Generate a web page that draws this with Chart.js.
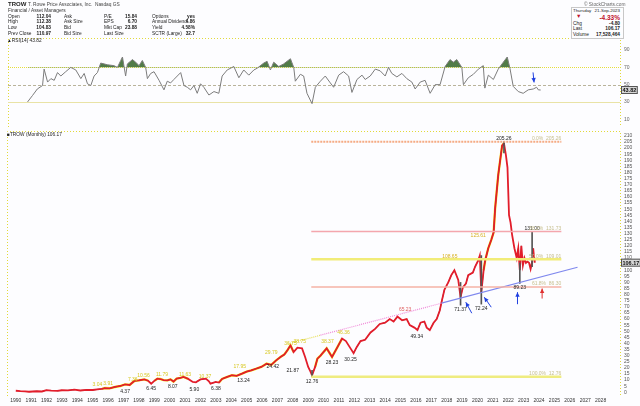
<!DOCTYPE html>
<html>
<head>
<meta charset="utf-8">
<script src="https://cdn.jsdelivr.net/npm/chart.js@4.4.0/dist/chart.umd.min.js"></script>
<style>
body{margin:0;background:#fdfdff;width:640px;height:406px;overflow:hidden;position:relative;font-family:"Liberation Sans",Arial,sans-serif}
canvas{position:absolute;left:0;top:0}
.t{position:absolute;font-size:4.8px;line-height:5px;color:#222;white-space:nowrap}
.b{font-weight:bold}
.r{text-align:right}
</style>
</head>
<body>
<canvas id="rsi" width="640" height="406"></canvas>
<canvas id="main" width="640" height="406"></canvas>

<div class="t b" style="left:8px;top:1px;font-size:6px;line-height:6px">TROW</div>
<div class="t" style="left:28px;top:2px;color:#444">T. Rowe Price Associates, Inc.&nbsp; Nasdaq GS</div>
<div class="t" style="left:8px;top:8px;color:#333">Financial / Asset Managers</div>

<div class="t" style="left:8px;top:13.5px">Open</div><div class="t b r" style="left:20px;width:31px;top:13.5px">112.04</div>
<div class="t" style="left:8px;top:19px">High</div><div class="t b r" style="left:20px;width:31px;top:19px">112.38</div>
<div class="t" style="left:8px;top:25px">Low</div><div class="t b r" style="left:20px;width:31px;top:25px">104.83</div>
<div class="t" style="left:8px;top:31px">Prev Close</div><div class="t b r" style="left:20px;width:31px;top:31px">110.97</div>

<div class="t" style="left:64px;top:13.5px">Ask</div>
<div class="t" style="left:64px;top:19px">Ask Size</div>
<div class="t" style="left:64px;top:25px">Bid</div>
<div class="t" style="left:64px;top:31px">Bid Size</div>

<div class="t" style="left:104px;top:13.5px">P/E</div><div class="t b r" style="left:110px;width:27px;top:13.5px">15.84</div>
<div class="t" style="left:104px;top:19px">EPS</div><div class="t b r" style="left:110px;width:27px;top:19px">6.70</div>
<div class="t" style="left:104px;top:25px">Mkt Cap</div><div class="t b r" style="left:110px;width:27px;top:25px">23.88</div>
<div class="t" style="left:104px;top:31px">Last Size</div>

<div class="t" style="left:152px;top:13.5px">Options</div><div class="t b r" style="left:170px;width:25px;top:13.5px">yes</div>
<div class="t" style="left:152px;top:19px">Annual Dividend</div><div class="t b r" style="left:170px;width:25px;top:19px">4.86</div>
<div class="t" style="left:152px;top:25px">Yield</div><div class="t b r" style="left:170px;width:25px;top:25px">4.58%</div>
<div class="t" style="left:152px;top:31px">SCTR (Large)</div><div class="t b r" style="left:170px;width:25px;top:31px">32.7</div>

<div class="t" style="left:7px;top:38px">&#9650;RSI(14) 43.82</div>
<div class="t" style="left:7px;top:132px">&#9632;TROW (Monthly) 106.17</div>

<div class="t" style="left:584px;top:2px;color:#666">&copy; StockCharts.com</div>
<div style="position:absolute;left:571px;top:7px;width:51px;height:30px;border:1px solid #c8c8c8;background:#fdfdff"></div>
<div class="t" style="left:573px;top:8px;font-size:4.4px">Thursday</div><div class="t r" style="left:592px;width:28px;top:8px;font-size:4.4px">21-Sep-2023</div>
<div class="t" style="left:576px;top:14px;color:#c0102a;font-size:5.5px">&#9660;</div><div class="t b r" style="left:585px;width:35px;top:13.5px;color:#c0102a;font-size:6.5px;line-height:7px">-4.33%</div>
<div class="t" style="left:573px;top:20.5px">Chg</div><div class="t b r" style="left:590px;width:30px;top:20.5px">-4.80</div>
<div class="t" style="left:573px;top:26px">Last</div><div class="t b r" style="left:590px;width:30px;top:26px">106.17</div>
<div class="t" style="left:573px;top:31.5px">Volume</div><div class="t b r" style="left:590px;width:30px;top:31.5px">17,528,464</div>

<script>
// monthly close (approx)
var priceYears = [1990.0,1990.3,1990.6,1990.85,1991.1,1991.4,1991.7,1992.0,1992.3,1992.7,1993.0,1993.4,1993.8,1994.2,1994.6,1995.0,1995.3,1995.6,1995.8,1996.1,1996.45,1996.8,1997.1,1997.4,1997.7,1998.0,1998.35,1998.6,1998.8,1999.0,1999.2,1999.4,1999.6,1999.85,2000.05,2000.25,2000.45,2000.7,2000.9,2001.05,2001.2,2001.5,2001.7,2002.0,2002.35,2002.55,2002.65,2003.0,2003.2,2003.4,2003.7,2004.05,2004.35,2004.7,2005.0,2005.3,2005.6,2005.95,2006.3,2006.6,2006.9,2007.2,2007.45,2007.65,2007.85,2008.05,2008.3,2008.6,2008.8,2009.0,2009.15,2009.25,2009.45,2009.6,2009.8,2010.2,2010.4,2010.55,2010.9,2011.2,2011.45,2011.75,2011.95,2012.15,2012.4,2012.7,2013.05,2013.35,2013.65,2014.0,2014.3,2014.55,2014.8,2015.1,2015.4,2015.6,2015.9,2016.1,2016.3,2016.55,2016.7,2016.9,2017.15,2017.35,2017.55,2017.65,2017.85,2018.1,2018.3,2018.5,2018.75,2018.9,2019.05,2019.25,2019.4,2019.7,2019.85,2020.05,2020.15,2020.25,2020.4,2020.5,2020.7,2020.9,2021.05,2021.15,2021.35,2021.6,2021.72,2021.85,2021.95,2022.05,2022.15,2022.25,2022.4,2022.55,2022.65,2022.75,2022.85,2022.95,2023.05,2023.15,2023.25,2023.35,2023.45,2023.55,2023.62,2023.68,2023.72];
var priceCloses = [1.3,1.0,0.8,0.5,0.7,0.9,0.7,1.8,1.4,1.2,1.7,1.6,2.2,1.5,2.0,1.9,2.4,2.9,3.5,3.3,4.4,5.2,6.5,6.0,9.3,9.8,10.6,9.5,7.1,9.4,11.2,10.9,10.0,9.8,10.6,8.8,11.2,11.9,12.6,11.8,11.0,8.5,8.2,10.6,11.2,9.0,7.1,8.5,8.0,11.0,12.5,14.0,13.5,15.3,17.0,18.0,19.3,20.8,23.5,22.5,26.0,29.0,31.0,34.4,38.5,33.0,36.6,36.0,29.0,20.8,17.0,14.0,20.8,27.6,30.0,36.0,32.0,29.0,37.0,44.0,42.0,36.0,32.0,37.0,42.0,43.0,49.0,52.0,56.0,57.0,60.0,58.0,62.0,59.0,60.0,55.0,53.0,51.0,57.0,58.0,53.0,51.0,57.0,60.0,67.0,73.0,84.0,90.0,96.0,100.0,92.0,78.0,86.0,89.0,96.0,98.0,103.0,108.0,112.0,82.0,100.0,108.0,118.0,125.0,131.0,151.0,178.0,202.0,204.0,194.0,184.0,145.0,139.0,129.0,118.0,110.0,118.0,100.0,120.0,104.0,110.0,106.0,107.0,106.0,101.0,107.0,118.0,110.0,106.17];

// some high/low wicks
var wickYears = [2021.72,2018.9,2020.25,2022.75,2023.55,2009.25];
var wickLows  = [196,71.37,72.24,89.23,103,12.76];
var wickHighs = [205.26,90,112,106,131,18];

// periods drawn with the yellow highlight
var hiliteFrom = [1995.5,1998.9,2003.1,2009.3,2020.3];
var hiliteTo   = [1998.65,2001.3,2008.1,2011.2,2021.72];

// RSI(14)
var rsiYears = [1991.18,1991.5,1991.8,1992.13,1992.23,1992.45,1992.66,1992.87,1993.08,1993.29,1993.6,1993.92,1994.24,1994.56,1994.77,1994.98,1995.19,1995.4,1995.61,1995.82,1996.25,1996.66,1996.88,1997.09,1997.2,1997.4,1997.51,1997.83,1998.04,1998.25,1998.46,1998.67,1998.78,1998.99,1999.2,1999.52,1999.83,2000.04,2000.25,2000.46,2000.89,2001.1,2001.31,2001.52,2001.73,2001.94,2002.15,2002.36,2002.68,2003.0,2003.31,2003.52,2003.84,2004.26,2004.58,2004.89,2005.21,2005.53,2005.74,2006.16,2006.37,2006.58,2006.79,2007.11,2007.42,2007.85,2008.06,2008.16,2008.48,2008.69,2008.9,2009.22,2009.43,2009.75,2010.06,2010.38,2010.59,2010.91,2011.22,2011.54,2011.75,2012.07,2012.39,2012.59,2012.91,2013.23,2013.54,2013.86,2014.07,2014.28,2014.6,2014.92,2015.23,2015.55,2015.76,2016.08,2016.39,2016.71,2017.03,2017.34,2017.66,2017.97,2018.18,2018.4,2018.72,2018.82,2019.13,2019.45,2019.77,2020.08,2020.18,2020.4,2020.72,2021.03,2021.35,2021.6,2021.77,2021.98,2022.3,2022.61,2022.93,2023.25,2023.46,2023.57,2023.72];
var rsiValues = [30,37.6,45,49,68,53,57,55,64,60,65,70,67,57,63,51,49,60,64,75,73,72,70,78,82,60,74,79,76,72,78,70,57,63,65,55,44,54,52,56,64,49,47,44,49,40,51,47,38,42,40,60,67,71,58,67,61,67,69,75,77,67,76,71,74,80,70,54,62,60,40,28,47,54,60,52,47,61,65,60,41,56,61,56,60,68,66,60,70,63,59,63,57,53,45,53,55,40,50,50,71,79,76,79,70,50,58,62,68,72,46,61,56,68,76,82,69,48,42,40,44,45,47,44,43.82];

// axis tick labels
var yearTicks = [];
for (var yy = 1990; yy <= 2028; yy++) yearTicks.push(yy);
var rsiTicks = [10,30,50,70,90];

// Fibonacci retracement 12.76 -> 205.26
var fibLevels = [205.26,131.73,109.01,86.30,12.76];
var fibNames  = ['0.0%','38.2%','50.0%','61.8%','100.0%'];
var fibFrom = 2009.2, fibTo = 2025.45;

// support trend line
var trendYears  = [2007.7,2009.8,2017.66,2026.5];
var trendValues = [39.8,46.8,73.0,102.4];

// price labels
var labYears  = [2021.72,2020.05,2018.2,2023.55,2018.9,2020.25,2022.75,2016.05,2015.3,2011.3,2011.75,2010.25,2010.55,2009.25,2008.0,2007.85,2008.45,2006.6,2006.7,2004.55,2004.8,2003.0,2002.3,2001.6,2001.0,2000.2,1999.5,1998.8,1998.3,1997.6,1997.1,1996.0,1995.3];
var labValues = [205.26,125.61,108.65,131.00,71.37,72.24,89.23,49.34,65.23,46.36,30.25,38.37,28.23,12.76,21.87,36.75,38.75,29.79,24.42,17.95,13.24,6.38,10.37,5.90,11.63,8.07,11.79,6.45,10.56,7.36,4.37,3.91,3.04];
var labText   = ['205.26','125.61','108.65','131.00','71.37','72.24','89.23','49.34','65.23','46.36','30.25','38.37','28.23','12.76','21.87','36.75','38.75','29.79','24.42','17.95','13.24','6.38','10.37','5.90','11.63','8.07','11.79','6.45','10.56','7.36','4.37','3.91','3.04'];
var labAbove  = [1,1,1,1,0,0,0,0,1,1,0,1,0,0,0,1,1,1,0,1,0,0,1,0,1,0,1,0,1,1,0,1,1];
var labColors = ['#222','#d8b020','#d8b020','#222','#222','#222','#222','#222','#e06060','#d8c820','#222','#d8c820','#222','#222','#222','#d8c820','#d8c820','#d8c820','#222','#d8c820','#222','#222','#d8c820','#222','#d8c820','#222','#d8c820','#222','#d8c820','#d8c820','#222','#d8c820','#d8c820'];

// arrows: head at (year, value), tail offset in px
var arrowYears  = [2019.24,2020.44,2022.6,2024.2];
var arrowValues = [73.8,77.9,82,85];
var arrowDx = [6,7,0,0], arrowDy = [11,10,12,10];
var arrowColors = ['#2040e0','#2040e0','#2040e0','#e03030'];

var X_MIN = 1989.94, X_MAX = 2028.75;

function pts(xs, ys){ return xs.map(function(x,i){ return {x:x, y:ys[i]}; }); }

function dotBorder(ctx, a){
  ctx.save();
  ctx.strokeStyle = '#e2da3a';
  ctx.lineWidth = 1;
  ctx.setLineDash([1,2]);
  ctx.beginPath();
  ctx.moveTo(a.left+0.5, a.bottom); ctx.lineTo(a.left+0.5, a.top+0.5); ctx.lineTo(a.right+0.5, a.top+0.5); ctx.lineTo(a.right+0.5, a.bottom);
  ctx.stroke();
  ctx.restore();
}

function valueBox(ctx, x, y, txt){
  ctx.save();
  ctx.font = 'bold 5.5px "Liberation Sans", Arial';
  var w = ctx.measureText(txt).width + 3;
  ctx.fillStyle = '#d6d6d6';
  ctx.strokeStyle = '#555';
  ctx.fillRect(x, y-4, w, 8);
  ctx.strokeRect(x+0.5, y-3.5, w-1, 7);
  ctx.fillStyle = '#111';
  ctx.textBaseline = 'middle';
  ctx.fillText(txt, x+1.5, y+0.5);
  ctx.restore();
}

function arrow(ctx, hx, hy, dx, dy, col){
  var tx = hx + dx, ty = hy + dy;
  var ang = Math.atan2(hy-ty, hx-tx);
  ctx.save();
  ctx.strokeStyle = col; ctx.fillStyle = col; ctx.lineWidth = 1;
  ctx.beginPath(); ctx.moveTo(tx, ty); ctx.lineTo(hx, hy); ctx.stroke();
  ctx.beginPath();
  ctx.moveTo(hx, hy);
  ctx.lineTo(hx - 5*Math.cos(ang-0.45), hy - 5*Math.sin(ang-0.45));
  ctx.lineTo(hx - 5*Math.cos(ang+0.45), hy - 5*Math.sin(ang+0.45));
  ctx.closePath(); ctx.fill();
  ctx.restore();
}

var rsiDeco = {
  id: 'rsiDeco',
  beforeDatasetsDraw: function(chart){
    var ctx = chart.ctx, a = chart.chartArea, y = chart.scales.y;
    dotBorder(ctx, a);
    var lv = [70,50,30], cols = ['#e6de3c','#b9b39a','#e9e3a6'], dash = [[1,1],[3,2],[]];
    lv.forEach(function(v,i){
      ctx.save();
      ctx.strokeStyle = cols[i]; ctx.setLineDash(dash[i]); ctx.lineWidth = 1;
      var p = Math.round(y.getPixelForValue(v)) + 0.5;
      ctx.beginPath(); ctx.moveTo(a.left, p); ctx.lineTo(a.right, p); ctx.stroke();
      ctx.restore();
    });
  },
  afterDatasetsDraw: function(chart){
    var ctx = chart.ctx, x = chart.scales.x, y = chart.scales.y;
    arrow(ctx, x.getPixelForValue(2023.3), y.getPixelForValue(52.6), -1, -10, '#2040e0');
    valueBox(ctx, chart.chartArea.right + 1, y.getPixelForValue(rsiValues[rsiValues.length-1]), rsiValues[rsiValues.length-1].toFixed(2));
  }
};

var mainDeco = {
  id: 'mainDeco',
  beforeDatasetsDraw: function(chart){ dotBorder(chart.ctx, chart.chartArea); },
  afterDatasetsDraw: function(chart){
    var ctx = chart.ctx, x = chart.scales.x, y = chart.scales.y;
    ctx.save();
    ctx.font = '5px "Liberation Sans", Arial';
    ctx.textAlign = 'center';
    labYears.forEach(function(yr,i){
      var px = x.getPixelForValue(yr), py = y.getPixelForValue(labValues[i]);
      ctx.fillStyle = labColors[i];
      ctx.textBaseline = labAbove[i] ? 'bottom' : 'top';
      ctx.fillText(labText[i], px, labAbove[i] ? py - 1 : py + 2);
    });
    // fib labels
    ctx.textAlign = 'right';
    ctx.textBaseline = 'bottom';
    ctx.fillStyle = '#c8c090';
    fibLevels.forEach(function(v,i){
      ctx.fillText(fibNames[i] + '  ' + v.toFixed(2), x.getPixelForValue(fibTo), y.getPixelForValue(v) - 0.5);
    });
    ctx.restore();
    arrowYears.forEach(function(yr,i){
      arrow(ctx, x.getPixelForValue(yr), y.getPixelForValue(arrowValues[i]), arrowDx[i], arrowDy[i], arrowColors[i]);
    });
    valueBox(ctx, chart.chartArea.right + 1, y.getPixelForValue(priceCloses[priceCloses.length-1]), priceCloses[priceCloses.length-1].toFixed(2));
  }
};

Chart.defaults.font.family = '"Liberation Sans", Arial, sans-serif';
Chart.defaults.animation = false;

new Chart(document.getElementById('rsi'), {
  type: 'line',
  data: { datasets: [{
    data: pts(rsiYears, rsiValues),
    borderColor: '#7c7c7c', borderWidth: 1, pointRadius: 0, tension: 0,
    fill: { target: { value: 70 }, above: 'rgba(66,112,56,0.92)', below: 'rgba(0,0,0,0)' }
  }]},
  options: {
    responsive: false, events: [],
    layout: { padding: { top: 38, left: 8, right: 0, bottom: 279 } },
    plugins: { legend: { display: false }, tooltip: { enabled: false } },
    scales: {
      x: { type: 'linear', min: X_MIN, max: X_MAX, display: false },
      y: { position: 'right', min: 1, max: 104,
        afterBuildTicks: function(s){ s.ticks = rsiTicks.map(function(v){ return {value: v}; }); },
        afterFit: function(s){ s.width = 20; },
        ticks: { font: { size: 5 }, color: '#666', padding: 4 },
        grid: { display: false, drawTicks: false }, border: { display: false } }
    }
  },
  plugins: [rsiDeco]
});

function inHilite(yr){
  for (var i = 0; i < hiliteFrom.length; i++) if (yr >= hiliteFrom[i] && yr <= hiliteTo[i]) return true;
  return false;
}

var fibColors = ['#f5ab84','#f4a6ad','#f1ec78','#f4b2a6','#efec80'];
var fibWidths = [2,1.5,2.5,1.5,2.5];
var datasets = [];
fibLevels.forEach(function(v,i){
  datasets.push({ data: [{x: fibFrom, y: v}, {x: fibTo, y: v}], borderColor: fibColors[i], borderWidth: fibWidths[i], borderDash: i === 0 ? [2,1] : [], pointRadius: 0 });
});
datasets.push({
  data: pts(trendYears, trendValues), borderWidth: 1.2, pointRadius: 0,
  segment: {
    borderColor: function(c){ return ['#e8e060','#f08ad8','#7f88ee'][c.p0DataIndex]; },
    borderDash: function(c){ return c.p0DataIndex < 2 ? [1,1] : []; }
  }
});
datasets.push({
  type: 'bar',
  data: wickYears.map(function(yr,i){ return {x: yr, y: [wickLows[i], wickHighs[i]]}; }),
  backgroundColor: '#555', barThickness: 1
});
// price: red bars, black bodies on up months
datasets.push({
  data: pts(priceYears, priceCloses), borderWidth: 1.8, pointRadius: 0, tension: 0,
  borderColor: '#e21d2b'
});
datasets.push({
  data: pts(priceYears, priceCloses), borderWidth: 0.7, pointRadius: 0, tension: 0,
  borderColor: '#2a1a1a',
  segment: { borderColor: function(c){ return c.p1.parsed.y > c.p0.parsed.y ? '#2a1a1a' : 'rgba(0,0,0,0)'; } }
});
datasets.push({
  data: priceYears.map(function(yr,i){ return {x: yr, y: inHilite(yr) ? priceCloses[i] : null}; }),
  borderColor: 'rgba(246,240,20,0.95)', borderWidth: 2.4, pointRadius: 0, spanGaps: false
});

new Chart(document.getElementById('main'), {
  type: 'line',
  data: { datasets: datasets },
  options: {
    responsive: false, events: [],
    layout: { padding: { top: 131, left: 7, right: 0, bottom: 0 } },
    plugins: { legend: { display: false }, tooltip: { enabled: false } },
    scales: {
      x: { type: 'linear', min: X_MIN, max: X_MAX,
        afterBuildTicks: function(s){ s.ticks = yearTicks.map(function(v){ return {value: v}; }); },
        ticks: { autoSkip: false, maxRotation: 0, font: { size: 5 }, color: '#333', padding: 2,
          callback: function(v){ return String(v); } },
        afterFit: function(s){ s.height = 10; },
        grid: { display: false, drawTicks: false }, border: { display: false } },
      y: { position: 'right', min: -3, max: 214,
        ticks: { stepSize: 5, includeBounds: false, autoSkip: false, font: { size: 5 }, color: '#555', padding: 4 },
        afterFit: function(s){ s.width = 20; },
        grid: { display: false, drawTicks: false }, border: { display: false } }
    }
  },
  plugins: [mainDeco]
});
</script>
</body>
</html>
